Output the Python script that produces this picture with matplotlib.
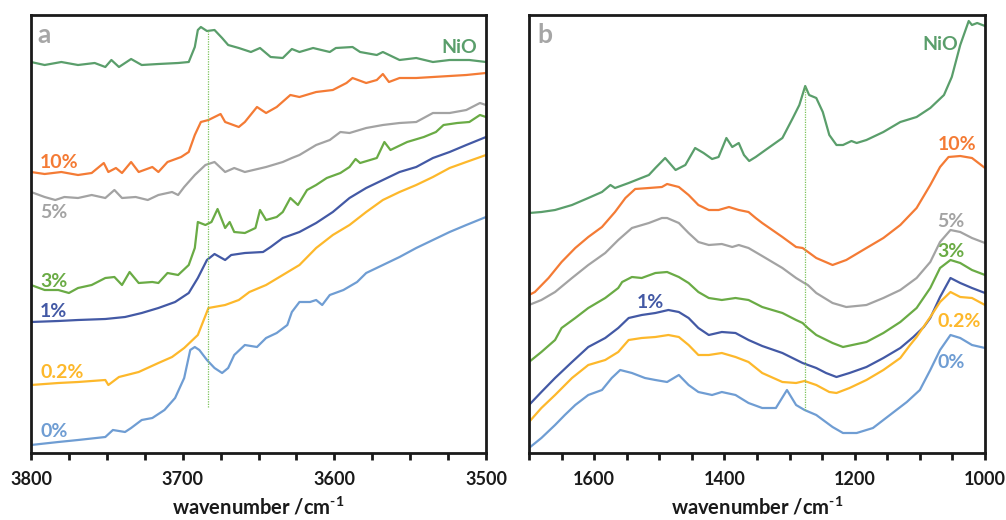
import matplotlib
matplotlib.use("Agg")
import matplotlib.pyplot as plt
from matplotlib.ticker import MultipleLocator, FuncFormatter

# ---------------- Panel a (OH region) ----------------
a_nio_wn = [3800, 3791, 3780, 3769, 3758, 3751, 3747, 3742, 3734, 3727, 3716, 3703, 3696, 3692, 3690, 3688, 3684, 3679, 3674, 3670, 3663, 3655, 3649, 3642, 3634, 3628, 3623, 3614, 3603, 3599, 3588, 3583, 3572, 3568, 3557, 3546, 3535, 3524, 3511, 3500]
a_nio_ab = [398, 395, 398, 395, 397, 393, 400, 393, 401, 395, 396, 397, 398, 413, 430, 433, 429, 430, 422, 415, 412, 408, 412, 403, 402, 411, 408, 412, 408, 412, 413, 408, 405, 408, 400, 402, 398, 400, 400, 398]

a_10_wn = [3800, 3791, 3780, 3769, 3760, 3752, 3749, 3744, 3740, 3734, 3729, 3720, 3716, 3710, 3701, 3696, 3692, 3688, 3683, 3675, 3672, 3663, 3659, 3651, 3645, 3638, 3629, 3623, 3612, 3601, 3592, 3588, 3579, 3572, 3568, 3564, 3557, 3546, 3535, 3524, 3513, 3500]
a_10_ab = [288, 286, 288, 285, 287, 297, 288, 292, 287, 298, 288, 293, 288, 298, 303, 308, 325, 338, 340, 346, 338, 333, 338, 353, 347, 353, 365, 363, 368, 370, 377, 382, 377, 380, 386, 378, 382, 382, 383, 384, 385, 387]

a_5_wn = [3800, 3791, 3784, 3778, 3769, 3760, 3751, 3745, 3740, 3731, 3723, 3716, 3707, 3703, 3699, 3692, 3685, 3679, 3672, 3666, 3659, 3645, 3634, 3628, 3623, 3612, 3603, 3596, 3590, 3579, 3568, 3557, 3546, 3535, 3524, 3513, 3504, 3500]
a_5_ab = [268, 263, 260, 263, 262, 265, 262, 270, 262, 263, 260, 265, 268, 265, 273, 285, 295, 298, 288, 292, 288, 293, 298, 302, 305, 315, 320, 328, 327, 332, 335, 337, 338, 347, 347, 350, 357, 355]

a_3_wn = [3800, 3791, 3782, 3775, 3769, 3760, 3751, 3745, 3740, 3735, 3729, 3720, 3716, 3710, 3703, 3696, 3692, 3690, 3685, 3681, 3677, 3672, 3669, 3666, 3659, 3652, 3649, 3645, 3638, 3634, 3629, 3624, 3618, 3612, 3605, 3596, 3590, 3586, 3583, 3572, 3567, 3563, 3552, 3541, 3533, 3528, 3519, 3511, 3504, 3500]
a_3_ab = [175, 170, 170, 167, 172, 175, 182, 183, 175, 188, 177, 178, 177, 187, 185, 195, 212, 238, 235, 238, 251, 232, 238, 228, 227, 232, 250, 240, 243, 248, 262, 255, 270, 275, 282, 287, 293, 301, 297, 302, 318, 310, 318, 323, 328, 335, 337, 338, 345, 343]

a_1_wn = [3800, 3782, 3769, 3751, 3738, 3727, 3716, 3705, 3696, 3690, 3684, 3679, 3672, 3668, 3659, 3647, 3642, 3634, 3623, 3612, 3601, 3590, 3579, 3568, 3557, 3546, 3535, 3524, 3513, 3500]
a_1_ab = [138, 139, 140, 141, 143, 147, 152, 158, 167, 182, 200, 206, 200, 205, 207, 208, 213, 222, 228, 237, 248, 262, 272, 280, 288, 293, 302, 308, 315, 323]

a_02_wn = [3800, 3782, 3769, 3751, 3749, 3742, 3729, 3716, 3707, 3699, 3690, 3683, 3672, 3663, 3656, 3645, 3634, 3623, 3612, 3601, 3590, 3579, 3568, 3557, 3546, 3535, 3524, 3513, 3500]
a_02_ab = [75, 77, 78, 80, 75, 83, 88, 97, 103, 112, 125, 152, 155, 160, 168, 175, 185, 195, 212, 225, 235, 248, 260, 268, 275, 283, 292, 298, 305]

a_0_wn = [3800, 3782, 3769, 3751, 3746, 3738, 3734, 3727, 3720, 3712, 3705, 3699, 3695, 3692, 3689, 3684, 3679, 3674, 3670, 3666, 3659, 3651, 3645, 3638, 3631, 3628, 3623, 3616, 3612, 3608, 3603, 3594, 3585, 3579, 3568, 3557, 3546, 3535, 3524, 3513, 3500]
a_0_ab = [15, 18, 20, 23, 30, 28, 32, 40, 42, 50, 62, 82, 110, 113, 110, 100, 92, 87, 92, 105, 115, 113, 122, 127, 135, 148, 158, 158, 160, 155, 165, 170, 178, 187, 195, 203, 212, 220, 228, 235, 243]

# ---------------- Panel b (carbonate region) ----------------
b_nio_wn = [1700, 1681, 1660, 1634, 1609, 1588, 1575, 1568, 1547, 1516, 1506, 1491, 1475, 1460, 1445, 1432, 1419, 1409, 1397, 1388, 1378, 1370, 1362, 1352, 1337, 1311, 1295, 1285, 1276, 1270, 1259, 1249, 1239, 1228, 1218, 1205, 1197, 1182, 1156, 1130, 1105, 1084, 1063, 1051, 1038, 1025, 1020, 1012, 1000]
b_nio_ab = [247, 248, 250, 255, 262, 268, 275, 272, 277, 285, 292, 302, 290, 295, 312, 307, 301, 303, 322, 313, 317, 305, 299, 303, 310, 322, 342, 355, 374, 365, 362, 348, 325, 315, 315, 319, 317, 320, 328, 338, 343, 352, 365, 383, 415, 439, 435, 437, 434]

b_10_wn = [1700, 1691, 1670, 1650, 1629, 1609, 1588, 1568, 1552, 1537, 1516, 1496, 1488, 1470, 1455, 1440, 1424, 1409, 1393, 1378, 1363, 1352, 1342, 1311, 1290, 1280, 1259, 1234, 1213, 1182, 1156, 1130, 1105, 1084, 1069, 1056, 1038, 1020, 1000]
b_10_ab = [165, 168, 182, 198, 212, 223, 233, 248, 262, 271, 272, 273, 276, 273, 265, 255, 250, 250, 253, 250, 248, 242, 237, 223, 213, 212, 202, 195, 200, 212, 222, 235, 252, 275, 293, 303, 304, 302, 292]

b_5_wn = [1700, 1681, 1660, 1634, 1609, 1583, 1563, 1542, 1516, 1496, 1488, 1470, 1455, 1440, 1424, 1404, 1388, 1378, 1363, 1342, 1311, 1290, 1280, 1272, 1259, 1234, 1213, 1182, 1156, 1130, 1105, 1084, 1069, 1053, 1038, 1020, 1000]
b_5_ab = [155, 160, 168, 182, 195, 207, 220, 232, 237, 242, 242, 237, 227, 218, 215, 216, 213, 215, 212, 204, 192, 182, 178, 175, 167, 157, 153, 155, 162, 170, 182, 198, 218, 230, 228, 222, 217]

b_3_wn = [1700, 1681, 1660, 1650, 1629, 1609, 1583, 1563, 1557, 1542, 1527, 1506, 1488, 1470, 1455, 1440, 1424, 1404, 1383, 1363, 1342, 1311, 1290, 1280, 1272, 1259, 1234, 1218, 1182, 1156, 1130, 1105, 1084, 1069, 1053, 1038, 1020, 1000]
b_3_ab = [98, 108, 120, 132, 142, 152, 162, 172, 178, 183, 182, 187, 188, 183, 177, 168, 162, 160, 162, 160, 153, 147, 140, 137, 132, 125, 117, 113, 118, 127, 138, 152, 172, 192, 200, 197, 190, 185]

b_1_wn = [1700, 1681, 1660, 1634, 1609, 1583, 1563, 1547, 1527, 1506, 1486, 1470, 1455, 1440, 1424, 1404, 1383, 1363, 1342, 1311, 1280, 1259, 1244, 1228, 1208, 1182, 1156, 1130, 1110, 1094, 1084, 1069, 1053, 1038, 1020, 1000]
b_1_ab = [55, 68, 82, 98, 113, 122, 132, 142, 145, 147, 150, 148, 142, 132, 125, 128, 127, 120, 114, 107, 97, 92, 87, 83, 87, 93, 102, 112, 123, 133, 142, 163, 182, 177, 172, 167]

b_02_wn = [1700, 1681, 1660, 1634, 1609, 1583, 1563, 1547, 1527, 1506, 1486, 1470, 1455, 1440, 1424, 1404, 1383, 1363, 1342, 1311, 1290, 1277, 1259, 1239, 1228, 1208, 1182, 1156, 1130, 1115, 1105, 1084, 1069, 1053, 1038, 1020, 1000]
b_02_ab = [38, 52, 65, 82, 95, 100, 108, 120, 122, 123, 125, 123, 115, 105, 105, 107, 103, 98, 87, 78, 77, 79, 75, 68, 67, 72, 80, 90, 102, 115, 123, 143, 158, 168, 163, 162, 155]

b_0_wn = [1700, 1681, 1660, 1645, 1629, 1609, 1588, 1573, 1560, 1542, 1522, 1506, 1488, 1470, 1455, 1440, 1419, 1404, 1383, 1363, 1342, 1321, 1304, 1290, 1277, 1259, 1234, 1218, 1197, 1172, 1146, 1120, 1100, 1084, 1069, 1053, 1038, 1020, 1000]
b_0_ab = [12, 22, 35, 45, 55, 65, 70, 82, 90, 87, 82, 80, 78, 85, 75, 68, 65, 68, 65, 57, 52, 52, 70, 55, 50, 45, 33, 27, 27, 32, 45, 58, 70, 90, 110, 125, 122, 115, 112]

series_labels = ["NiO", "10%", "5%", "3%", "1%", "0.2%", "0%"]
series_colors = ["#5a9e6b", "#f47b35", "#a3a3a3", "#6aab45", "#4359a5", "#fdb82b", "#6f9dd3"]

# reference band positions (dotted markers)
a_marker_wn = 3683
a_marker_span = [53, 430]
b_marker_wn = 1277
b_marker_span = [50, 373]

# ---------------- style ----------------
plt.rcParams['font.family'] = ['Lato', 'DejaVu Sans']
plt.rcParams['font.weight'] = 'bold'
plt.rcParams['mathtext.fontset'] = 'custom'
plt.rcParams['mathtext.rm'] = 'Lato:bold'
plt.rcParams['mathtext.bf'] = 'Lato:bold'
plt.rcParams['mathtext.default'] = 'bf'

W, H = 1006, 520
fig = plt.figure(figsize=(W / 100, H / 100), dpi=100)

def frac_box(l, r, t, b):
    return [l / W, 1 - b / H, (r - l) / W, (b - t) / H]

ax_a = fig.add_axes(frac_box(31, 486, 15, 453))
ax_b = fig.add_axes(frac_box(529, 985, 15, 453))

a_data = [(a_nio_wn, a_nio_ab), (a_10_wn, a_10_ab), (a_5_wn, a_5_ab), (a_3_wn, a_3_ab),
          (a_1_wn, a_1_ab), (a_02_wn, a_02_ab), (a_0_wn, a_0_ab)]
b_data = [(b_nio_wn, b_nio_ab), (b_10_wn, b_10_ab), (b_5_wn, b_5_ab), (b_3_wn, b_3_ab),
          (b_1_wn, b_1_ab), (b_02_wn, b_02_ab), (b_0_wn, b_0_ab)]

for (x, y), c in zip(a_data, series_colors):
    ax_a.plot(x, y, color=c, lw=1.6, solid_joinstyle='round')
for (x, y), c in zip(b_data, series_colors):
    ax_b.plot(x, y, color=c, lw=1.6, solid_joinstyle='round')

ax_a.plot([a_marker_wn, a_marker_wn], a_marker_span, color="#7cc35a", lw=0.9, ls=(0, (1, 1)))
ax_b.plot([b_marker_wn, b_marker_wn], b_marker_span, color="#7cc35a", lw=0.9, ls=(0, (1, 1)))

ax_a.set_xlim(3800, 3500)
ax_b.set_xlim(1700, 1000)
for ax in (ax_a, ax_b):
    ax.set_ylim(7, 445)
    ax.set_yticks([])
    for s in ax.spines.values():
        s.set_linewidth(2.0)
        s.set_color("#1a1a1a")
    ax.tick_params(axis='x', which='both', direction='out', length=5, width=2,
                   color="#1a1a1a", pad=8, labelsize=13, labelcolor="#1a1a1a")
    ax.set_xlabel(r'wavenumber /cm$^{\text{-1}}$', fontsize=14.5, fontweight='bold',
                  color="#1a1a1a", labelpad=6)

ax_a.xaxis.set_major_locator(MultipleLocator(100))
ax_a.xaxis.set_minor_locator(MultipleLocator(25))
ax_b.xaxis.set_major_locator(MultipleLocator(200))
ax_b.xaxis.set_minor_locator(MultipleLocator(50))
fmt = FuncFormatter(lambda v, p: f"{int(round(v))}")
ax_a.xaxis.set_major_formatter(fmt)
ax_b.xaxis.set_major_formatter(fmt)

# panel letters
ax_a.text(0.015, 0.936, "a", transform=ax_a.transAxes, fontsize=19, fontweight='bold',
          color="#a6a6a6", ha='left', va='baseline')
ax_b.text(0.0175, 0.936, "b", transform=ax_b.transAxes, fontsize=19, fontweight='bold',
          color="#a6a6a6", ha='left', va='baseline')

# series labels (axes-fraction positions)
a_label_pos = [(0.980, 0.913, 'right'), (0.0198, 0.651, 'left'), (0.0198, 0.537, 'left'),
               (0.0198, 0.379, 'left'), (0.0198, 0.311, 'left'), (0.0198, 0.171, 'left'),
               (0.0198, 0.0365, 'left')]
b_label_pos = [(0.862, 0.920, 'left'), (0.897, 0.692, 'left'), (0.895, 0.516, 'left'),
               (0.895, 0.447, 'left'), (0.237, 0.331, 'left'), (0.895, 0.288, 'left'),
               (0.895, 0.194, 'left')]
for lab, c, (x, y, ha) in zip(series_labels, series_colors, a_label_pos):
    ax_a.text(x, y, lab, transform=ax_a.transAxes, fontsize=14, fontweight='bold',
              color=c, ha=ha, va='baseline')
for lab, c, (x, y, ha) in zip(series_labels, series_colors, b_label_pos):
    ax_b.text(x, y, lab, transform=ax_b.transAxes, fontsize=14, fontweight='bold',
              color=c, ha=ha, va='baseline')

fig.savefig("out.png", dpi=100)
